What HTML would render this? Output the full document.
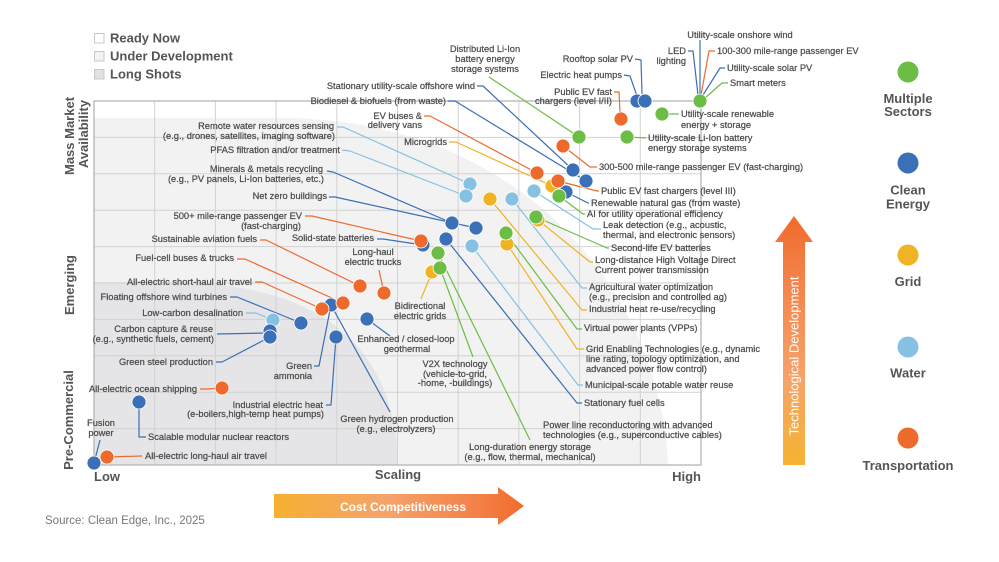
<!DOCTYPE html>
<html><head><meta charset="utf-8"><style>
html,body{margin:0;padding:0;background:#fff;}
svg{display:block;}
.t{font-family:"Liberation Sans",sans-serif;font-size:9.3px;fill:#4a4a4a;stroke:#4a4a4a;stroke-width:0.22px;}
.e{text-anchor:end}
.m{text-anchor:middle}
.h{font-family:"Liberation Sans",sans-serif;font-size:13px;font-weight:bold;fill:#555;}
</style></head><body>
<svg width="999" height="562" viewBox="0 0 999 562" xmlns="http://www.w3.org/2000/svg">
<defs>
<linearGradient id="gv" x1="0" y1="1" x2="0" y2="0">
<stop offset="0" stop-color="#f5b331"/><stop offset="0.35" stop-color="#f5a36a"/><stop offset="0.75" stop-color="#f3824a"/><stop offset="1" stop-color="#f26a2b"/>
</linearGradient>
<linearGradient id="gh" x1="0" y1="0" x2="1" y2="0">
<stop offset="0" stop-color="#f5b030"/><stop offset="0.45" stop-color="#f5a36c"/><stop offset="0.8" stop-color="#f3824a"/><stop offset="1" stop-color="#f26b2b"/>
</linearGradient>
</defs>
<rect width="999" height="562" fill="#fff"/>

<!-- shaded regions -->
<path d="M94,118 L280,118 C520,118 660,290 668,465 L94,465 Z" fill="#f2f2f2"/>
<path d="M94,282 L180,282 C300,285 395,330 398,465 L94,465 Z" fill="#e5e5e7"/>

<!-- grid -->
<g stroke="#d2d2d2" stroke-width="1">
<line x1="154.7" y1="101" x2="154.7" y2="465"/><line x1="215.4" y1="101" x2="215.4" y2="465"/>
<line x1="276.1" y1="101" x2="276.1" y2="465"/><line x1="336.8" y1="101" x2="336.8" y2="465"/>
<line x1="397.5" y1="101" x2="397.5" y2="465"/><line x1="458.2" y1="101" x2="458.2" y2="465"/>
<line x1="518.9" y1="101" x2="518.9" y2="465"/><line x1="579.6" y1="101" x2="579.6" y2="465"/>
<line x1="640.3" y1="101" x2="640.3" y2="465"/>
<line x1="94" y1="137.4" x2="701" y2="137.4"/><line x1="94" y1="173.8" x2="701" y2="173.8"/>
<line x1="94" y1="210.2" x2="701" y2="210.2"/><line x1="94" y1="246.6" x2="701" y2="246.6"/>
<line x1="94" y1="283" x2="701" y2="283"/><line x1="94" y1="319.4" x2="701" y2="319.4"/>
<line x1="94" y1="355.8" x2="701" y2="355.8"/><line x1="94" y1="392.2" x2="701" y2="392.2"/>
<line x1="94" y1="428.6" x2="701" y2="428.6"/>
</g>
<rect x="94" y="101" width="607" height="364" fill="none" stroke="#b5b5b5" stroke-width="1.3"/>

<!-- leader lines -->
<g fill="none" stroke-width="1.2" stroke-linejoin="round">
<g stroke="#3b6fb6">
<polyline points="477,86 483,86 573,170"/>
<polyline points="448,101 455,101 586,181"/>
<polyline points="635,59 641,60 642,94"/>
<polyline points="624,75 630,76 637,96"/>
<polyline points="327,171 333,172 452,223"/>
<polyline points="329,197 335,197 476,228"/>
<polyline points="377,239 383,239 423,245"/>
<polyline points="230,297 237,297 301,323"/>
<polyline points="217,334 268,333"/>
<polyline points="216,362 222,362 270,337"/>
<polyline points="314,366 319,366 331,305"/>
<polyline points="326,405 331,405 336,337"/>
<polyline points="331,305 390,412"/>
<polyline points="367,319 390,336"/>
<polyline points="139,402 139,437 146,437"/>
<polyline points="100,440 94,463"/>
<polyline points="446,239 577,403 582,403"/>
<polyline points="566,192 588,203 589,203"/>
<polyline points="725,68 720,68 703,95"/>
<polyline points="700,40 700,95"/>
<polyline points="688,51 693,51 698,95"/>
</g>
<g stroke="#6cbd45">
<polyline points="489,77 579,137"/>
<polyline points="440,268 473,357"/>
<polyline points="438,253 530,440"/>
<polyline points="506,233 577,329 582,329"/>
<polyline points="536,217 607,248 609,248"/>
<polyline points="559,196 583,214 585,214"/>
<polyline points="627,137 646,138"/>
<polyline points="662,114 679,114"/>
<polyline points="728,83 722,83 705,98"/>
</g>
<g stroke="#ee6a2c">
<polyline points="614,92 619,92 620,112"/>
<polyline points="424,116 430,116 537,173"/>
<polyline points="305,216 312,216 421,241"/>
<polyline points="260,240 266,240 360,286"/>
<polyline points="379,270 384,293"/>
<polyline points="237,259 245,259 343,303"/>
<polyline points="255,282 262,282 322,309"/>
<polyline points="200,389 207,389 222,388"/>
<polyline points="107,457 142,456"/>
<polyline points="558,181 597,191 599,191"/>
<polyline points="563,146 590,167 597,167"/>
<polyline points="715,51 709,51 701,95"/>
</g>
<g stroke="#f0b323">
<polyline points="449,142 456,142 552,186"/>
<polyline points="432,272 421,299"/>
<polyline points="507,244 577,349 584,349"/>
<polyline points="490,199 582,310 587,310"/>
<polyline points="538,220 590,262 593,262"/>
</g>
<g stroke="#85c1e3">
<polyline points="337,127 343,127 470,184"/>
<polyline points="342,150 350,151 466,196"/>
<polyline points="246,313 256,313 273,320"/>
<polyline points="472,246 578,385 583,385"/>
<polyline points="512,199 582,288 587,288"/>
<polyline points="534,191 593,229 601,229"/>
</g>
</g>

<!-- dots -->
<g stroke="#fff" stroke-width="0.8">
<g fill="#85c1e3">
<circle cx="470" cy="184" r="7"/><circle cx="466" cy="196" r="7"/><circle cx="512" cy="199" r="7"/>
<circle cx="534" cy="191" r="7"/><circle cx="472" cy="246" r="7"/><circle cx="273" cy="320" r="7"/>
</g>
<g fill="#f0b323">
<circle cx="490" cy="199" r="7"/><circle cx="552" cy="186" r="7"/><circle cx="507" cy="244" r="7"/>
<circle cx="432" cy="272" r="7"/><circle cx="538" cy="220" r="7"/>
</g>
<g fill="#3b6fb6">
<circle cx="637" cy="101" r="7"/><circle cx="645" cy="101" r="7"/><circle cx="573" cy="170" r="7"/>
<circle cx="586" cy="181" r="7"/><circle cx="566" cy="192" r="7"/><circle cx="452" cy="223" r="7"/>
<circle cx="476" cy="228" r="7"/><circle cx="446" cy="239" r="7"/><circle cx="423" cy="245" r="7"/>
<circle cx="367" cy="319" r="7"/><circle cx="331" cy="305" r="7"/><circle cx="301" cy="323" r="7"/>
<circle cx="270" cy="331" r="7"/><circle cx="270" cy="337" r="7"/><circle cx="336" cy="337" r="7"/>
<circle cx="139" cy="402" r="7"/><circle cx="94" cy="463" r="7"/>
</g>
<g fill="#ee6a2c">
<circle cx="621" cy="119" r="7"/><circle cx="563" cy="146" r="7"/><circle cx="537" cy="173" r="7"/>
<circle cx="558" cy="181" r="7"/><circle cx="421" cy="241" r="7"/><circle cx="360" cy="286" r="7"/>
<circle cx="384" cy="293" r="7"/><circle cx="343" cy="303" r="7"/><circle cx="322" cy="309" r="7"/>
<circle cx="222" cy="388" r="7"/><circle cx="107" cy="457" r="7"/>
</g>
<g fill="#6cbd45">
<circle cx="700" cy="101" r="7"/><circle cx="662" cy="114" r="7"/><circle cx="627" cy="137" r="7"/>
<circle cx="579" cy="137" r="7"/><circle cx="559" cy="196" r="7"/><circle cx="536" cy="217" r="7"/>
<circle cx="506" cy="233" r="7"/><circle cx="438" cy="253" r="7"/><circle cx="440" cy="268" r="7"/>
</g>
</g>

<!-- labels -->
<text class="t e" x="475" y="89">Stationary utility-scale offshore wind</text>
<text class="t e" x="446" y="104">Biodiesel &amp; biofuels (from waste)</text>
<text class="t m" x="485" y="52">Distributed Li-Ion</text>
<text class="t m" x="485" y="62">battery energy</text>
<text class="t m" x="485" y="72">storage systems</text>
<text class="t e" x="633" y="62">Rooftop solar PV</text>
<text class="t e" x="622" y="78">Electric heat pumps</text>
<text class="t e" x="612" y="95">Public EV fast</text>
<text class="t e" x="612" y="104">chargers (level I/II)</text>
<text class="t e" x="422" y="119">EV buses &amp;</text>
<text class="t e" x="422" y="128">delivery vans</text>
<text class="t e" x="447" y="145">Microgrids</text>
<text class="t e" x="334" y="129">Remote water resources sensing</text>
<text class="t e" x="335" y="139">(e.g., drones, satellites, imaging software)</text>
<text class="t e" x="340" y="153">PFAS filtration and/or treatment</text>
<text class="t e" x="323" y="172">Minerals &amp; metals recycling</text>
<text class="t e" x="324" y="182">(e.g., PV panels, Li-Ion batteries, etc.)</text>
<text class="t e" x="327" y="199">Net zero buildings</text>
<text class="t e" x="302" y="219">500+ mile-range passenger EV</text>
<text class="t e" x="301" y="229">(fast-charging)</text>
<text class="t e" x="374" y="241">Solid-state batteries</text>
<text class="t e" x="257" y="242">Sustainable aviation fuels</text>
<text class="t m" x="373" y="255">Long-haul</text>
<text class="t m" x="373" y="265">electric trucks</text>
<text class="t e" x="234" y="261">Fuel-cell buses &amp; trucks</text>
<text class="t e" x="252" y="285">All-electric short-haul air travel</text>
<text class="t e" x="227" y="300">Floating offshore wind turbines</text>
<text class="t e" x="243" y="316">Low-carbon desalination</text>
<text class="t e" x="213" y="332">Carbon capture &amp; reuse</text>
<text class="t e" x="214" y="342">(e.g., synthetic fuels, cement)</text>
<text class="t e" x="213" y="365">Green steel production</text>
<text class="t e" x="312" y="369">Green</text>
<text class="t e" x="312" y="379">ammonia</text>
<text class="t e" x="323" y="408">Industrial electric heat</text>
<text class="t e" x="324" y="417">(e-boilers,high-temp heat pumps)</text>
<text class="t e" x="197" y="392">All-electric ocean shipping</text>
<text class="t m" x="101" y="426">Fusion</text>
<text class="t m" x="101" y="436">power</text>

<text class="t m" x="406" y="342">Enhanced / closed-loop</text>
<text class="t m" x="407" y="352">geothermal</text>
<text class="t m" x="420" y="309">Bidirectional</text>
<text class="t m" x="420" y="319">electric grids</text>
<text class="t m" x="455" y="367">V2X technology</text>
<text class="t m" x="455" y="377">(vehicle-to-grid,</text>
<text class="t m" x="455" y="386">-home, -buildings)</text>
<text class="t m" x="397" y="422">Green hydrogen production</text>
<text class="t m" x="396" y="432">(e.g., electrolyzers)</text>
<text class="t m" x="530" y="450">Long-duration energy storage</text>
<text class="t m" x="530" y="460">(e.g., flow, thermal, mechanical)</text>
<text class="t m" x="740" y="38">Utility-scale onshore wind</text>

<text class="t" x="148" y="440">Scalable modular nuclear reactors</text>
<text class="t" x="145" y="459">All-electric long-haul air travel</text>
<text class="t" x="543" y="428">Power line reconductoring with advanced</text>
<text class="t" x="543" y="438">technologies (e.g., superconductive cables)</text>
<text class="t" x="584" y="406">Stationary fuel cells</text>
<text class="t" x="585" y="388">Municipal-scale potable water reuse</text>
<text class="t" x="586" y="352">Grid Enabling Technologies (e.g., dynamic</text>
<text class="t" x="586" y="362">line rating, topology optimization, and</text>
<text class="t" x="586" y="372">advanced power flow control)</text>
<text class="t" x="584" y="331">Virtual power plants (VPPs)</text>
<text class="t" x="589" y="312">Industrial heat re-use/recycling</text>
<text class="t" x="589" y="290">Agricultural water optimization</text>
<text class="t" x="589" y="300">(e.g., precision and controlled ag)</text>
<text class="t" x="595" y="263">Long-distance High Voltage Direct</text>
<text class="t" x="595" y="273">Current power transmission</text>
<text class="t" x="611" y="251">Second-life EV batteries</text>
<text class="t" x="603" y="228">Leak detection (e.g., acoustic,</text>
<text class="t" x="603" y="238">thermal, and electronic sensors)</text>
<text class="t" x="587" y="217">AI for utility operational efficiency</text>
<text class="t" x="591" y="206">Renewable natural gas (from waste)</text>
<text class="t" x="601" y="194">Public EV fast chargers (level III)</text>
<text class="t" x="599" y="170">300-500 mile-range passenger EV (fast-charging)</text>
<text class="t" x="648" y="141">Utility-scale Li-Ion battery</text>
<text class="t" x="648" y="151">energy storage systems</text>
<text class="t" x="681" y="117">Utility-scale renewable</text>
<text class="t" x="681" y="128">energy + storage</text>
<text class="t" x="730" y="86">Smart meters</text>
<text class="t" x="727" y="71">Utility-scale solar PV</text>
<text class="t" x="717" y="54">100-300 mile-range passenger EV</text>
<text class="t e" x="686" y="54">LED</text>
<text class="t e" x="686" y="64">lighting</text>

<!-- axis labels -->
<text class="h" x="94" y="481">Low</text>
<text class="h m" x="398" y="479">Scaling</text>
<text class="h e" x="701" y="481">High</text>
<text class="h m" transform="translate(74,136) rotate(-90)">Mass Market</text>
<text class="h m" transform="translate(88,134) rotate(-90)">Availability</text>
<text class="h m" transform="translate(74,285) rotate(-90)">Emerging</text>
<text class="h m" transform="translate(73,420) rotate(-90)">Pre-Commercial</text>

<!-- top-left legend -->
<rect x="94.5" y="33.5" width="9.5" height="9.5" fill="#fff" stroke="#c8c8c8"/>
<rect x="94.5" y="51.5" width="9.5" height="9.5" fill="#f3f3f3" stroke="#c8c8c8"/>
<rect x="94.5" y="69.5" width="9.5" height="9.5" fill="#e2e2e4" stroke="#c8c8c8"/>
<text class="h" x="110" y="42.5">Ready Now</text>
<text class="h" x="110" y="60.5">Under Development</text>
<text class="h" x="110" y="78.5">Long Shots</text>

<!-- right legend -->
<circle cx="908" cy="72" r="10.5" fill="#6cbd45"/>
<circle cx="908" cy="163" r="10.5" fill="#3b6fb6"/>
<circle cx="908" cy="255" r="10.5" fill="#f0b323"/>
<circle cx="908" cy="347" r="10.5" fill="#85c1e3"/>
<circle cx="908" cy="438" r="10.5" fill="#ee6a2c"/>
<text class="h m" x="908" y="103">Multiple</text>
<text class="h m" x="908" y="116">Sectors</text>
<text class="h m" x="908" y="194.5">Clean</text>
<text class="h m" x="908" y="208.5">Energy</text>
<text class="h m" x="908" y="286">Grid</text>
<text class="h m" x="908" y="377.5">Water</text>
<text class="h m" x="908" y="470">Transportation</text>

<!-- arrows -->
<polygon points="783,465 783,242 775,242 794,216 813,242 805,242 805,465" fill="url(#gv)"/>
<text transform="translate(798.5,356) rotate(-90)" text-anchor="middle" style="font-family:'Liberation Sans',sans-serif;font-size:13px;fill:#fff;">Technological Development</text>
<polygon points="274,494 498,494 498,487 524,506 498,525 498,518 274,518" fill="url(#gh)"/>
<text x="403" y="511" text-anchor="middle" style="font-family:'Liberation Sans',sans-serif;font-size:12px;font-weight:bold;fill:#fff;">Cost Competitiveness</text>

<text x="45" y="524" style="font-family:'Liberation Sans',sans-serif;font-size:11.5px;fill:#777;">Source: Clean Edge, Inc., 2025</text>
</svg>
</body></html>
